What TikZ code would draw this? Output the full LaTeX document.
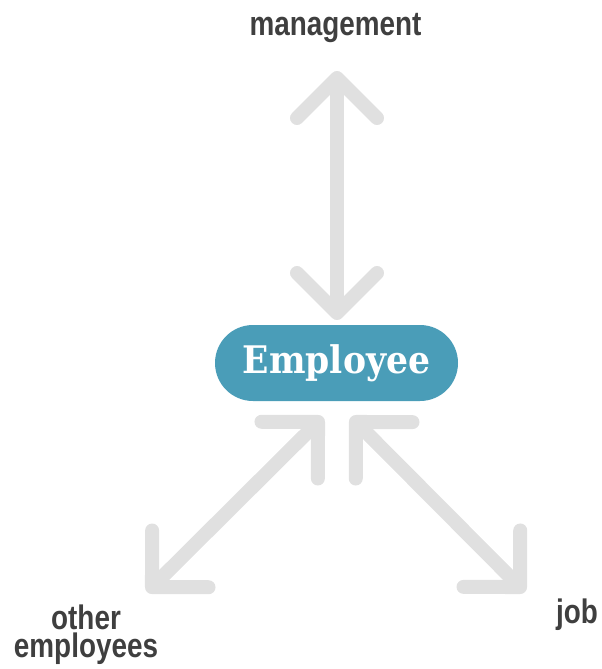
\documentclass[tikz,border=0pt]{standalone}
\usepackage{fontspec}
\setmainfont{Liberation Sans}
\newfontfamily\labelfont{Liberation Sans}[FakeStretch=0.82]
\newfontfamily\empfont{DejaVu Serif}[FakeStretch=0.91]
\usetikzlibrary{arrows.meta}
\definecolor{arrowgray}{HTML}{E0E0E0}
\definecolor{empblue}{HTML}{4A9DB8}
\definecolor{labelgray}{HTML}{3F3F3F}

\begin{document}
\begin{tikzpicture}[
        x=1pt, y=-1pt,
        person/.style={rectangle, fill=empblue, rounded corners=38pt, minimum width=243pt, minimum height=76pt, text=white, font=\empfont\bfseries\fontsize{38}{40}\selectfont},
        label_text/.style={text=labelgray, inner sep=0pt, anchor=base, align=center, font=\labelfont\bfseries\fontsize{34}{28}\selectfont},
        link/.style={draw=arrowgray, line width=14pt, line cap=round, {Straight Barb[length=40pt, width=80pt, round]}-{Straight Barb[length=40pt, width=80pt, round]}}
    ]
        \useasboundingbox (0,0) rectangle (602,669);

        % Employee in the middle
        \node[person] (emp) at (336.5,363) {Employee};

        % Labels
        \node[label_text] (mgmt_label) at (335.5,36) {management};
        \node[label_text] (others_label) at (86,657) {other\\employees};
        \node[label_text] (job_label) at (577,623) {job};

        % Arrow ends
        \coordinate (mgmt_end) at (337,71);
        \coordinate (emp_top) at (337,320);
        \coordinate (emp_left) at (323,417);
        \coordinate (others_end) at (147,592);
        \coordinate (emp_right) at (351,417);
        \coordinate (job_end) at (525,592);

        % Arrows
        \draw[link] (mgmt_end) -- (emp_top);
        \draw[link] (emp_left) -- (others_end);
        \draw[link] (emp_right) -- (job_end);

    \end{tikzpicture}
\end{document}
